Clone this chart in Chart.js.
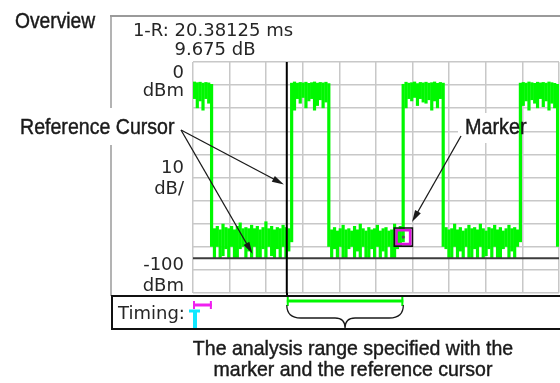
<!DOCTYPE html>
<html><head><meta charset="utf-8">
<script src="https://cdn.jsdelivr.net/npm/chart.js@4"></script>
<style>html,body{margin:0;padding:0;background:#fff}canvas{display:block}</style>
</head><body>
<canvas id="c" width="560" height="383"></canvas>
<script>
// ---- data ----
// column max / min of the overview trace, dBm, one column per 0.5 ms
const traceMax = [
  -8.5,-8.8,-8.6,-9.0,-8.7,-8.9,-9.5,
  -72,-71,-72.5,-70,-71.5,-72,-71,-72.5,-71,-69.5,-72,-71.5,-72,-70.5,-72,-71,-72.5,-71.5,-69,-72,-71,-72.5,-71.5,-72,-70.5,-71.5,-72,
  -9,-8.5,-9,-8.7,-8.9,-8.6,-9.1,-8.8,-8.5,-9,-8.7,-8.9,-8.6,-9.2,
  -72.5,-71.5,-73,-72,-70.5,-72.5,-72,-73,-71,-72.5,-70,-72,-73,-71.5,-72.5,-72,-70.5,-73,-72,-71.5,-73,-72.5,-70,-72,-71,
  -9.5,-8.6,-9,-8.8,-8.5,-9.2,-8.7,-8.9,-8.6,-9,-8.8,-8.5,-9.1,-8.7,-9,
  -71.5,-72.5,-72,-70,-72.5,-71.5,-73,-72,-70.5,-72,-71.5,-72.5,-70,-72,-73,-71.5,-72,-70.5,-72.5,-71.5,-73,-72,-70.5,-72,-71.5,-72.5,
  -9,-8.7,-9,-8.5,-8.8,-9.1,-8.6,-8.9,-8.7,-9,-8.5,-8.8,-9.1,-9.5
];
const traceMin = [
  -16,-20,-17,-21,-16,-18,-80,
  -85,-80,-85,-84,-81,-85,-80,-85,-85,-81,-80,-85,-82,-85,-80,-85,-85,-81,-85,-80,-84,-85,-81,-85,-80,-85,-82,
  -78,-21,-16,-18,-15.5,-20,-17,-16,-21,-19,-16.5,-20,-17.5,-80,
  -85,-81,-85,-80,-85,-85,-81,-80,-85,-82,-85,-80,-85,-85,-81,-85,-80,-85,-82,-85,-80,-85,-85,-81,-80,
  -78,-20,-16,-17,-15.5,-19,-16,-17.5,-18,-16.5,-21,-17,-20,-16,-80,
  -81,-85,-85,-80,-85,-82,-85,-80,-85,-85,-81,-85,-80,-85,-84,-81,-85,-80,-85,-85,-81,-80,-85,-82,-85,-80,
  -78,-19,-17,-21,-16.5,-18,-20,-16,-19.5,-17,-21,-18,-20,-80
];
const sampleStart = 0.25, sampleStep = 0.5;          // ms
const timeRange = [0, 64], timeDiv = 6.4;            // ms
const levelRange = [-100, 0], levelDiv = 10;         // dBm
const cursorTime = 16.4;                             // reference cursor, ms
const markerTime = 36.78, markerLevel = -75.8;       // marker
const thresholdLevel = -85;                          // dark level line
const yLabelsTop = ['0', 'dBm'];
const yLabelsMid = ['10', 'dB/'];
const yLabelsBot = ['-100', 'dBm'];
const readout = ['1-R: 20.38125 ms', '9.675 dB'];
const timingLabel = 'Timing:';
const titleText = 'Overview';
const refCursorText = 'Reference Cursor';
const markerText = 'Marker';
const caption = ['The analysis range specified with the', 'marker and the reference cursor'];
// callout arrow tips (time ms, level dBm)
const refArrowTips = [[15.9, -53], [10.4, -83]];
const markerArrowTip = [38.3, -69.3];
const timingMagenta = [0, 3.3];
const timingCyan = 0.35;

// ---- build ----
const traceData = traceMax.map((hi, i) => ({ x: sampleStart + i * sampleStep, y: [traceMin[i], hi] }));
const GREEN = 'rgb(0,248,0)';

function condensed(ctx, text, x, y, sx, align) {
  ctx.save(); ctx.translate(x, y); ctx.scale(sx, 1);
  ctx.textAlign = align; ctx.fillText(text, 0, 0); ctx.strokeText(text, 0, 0); ctx.restore();
}
function arrow(ctx, x1, y1, x2, y2) {
  const a = Math.atan2(y2 - y1, x2 - x1), L = 12, W = 3.3;
  const c = Math.cos(a), s = Math.sin(a);
  ctx.beginPath(); ctx.moveTo(x1, y1); ctx.lineTo(x2 - L * 0.7 * c, y2 - L * 0.7 * s); ctx.stroke();
  ctx.beginPath(); ctx.moveTo(x2, y2);
  ctx.lineTo(x2 - L * c + W * s, y2 - L * s - W * c);
  ctx.lineTo(x2 - L * c - W * s, y2 - L * s + W * c);
  ctx.closePath(); ctx.fill();
}

const overlay = {
  id: 'overlay',
  afterDraw(chart) {
    const { ctx, chartArea: ca, scales: { x, y } } = chart;
    ctx.save();
    const ink = '#1a1a1a';
    // outer frame of the overview panel
    ctx.strokeStyle = '#9a9a9a'; ctx.lineWidth = 2;
    ctx.beginPath(); ctx.moveTo(110, 16); ctx.lineTo(560, 16); ctx.stroke();
    ctx.lineWidth = 1.5;
    ctx.beginPath(); ctx.moveTo(111, 16); ctx.lineTo(111, 296); ctx.stroke();
    // cursor extension down to timing box
    const cx = x.getPixelForValue(cursorTime);
    ctx.strokeStyle = '#000'; ctx.lineWidth = 2;
    ctx.beginPath(); ctx.moveTo(Math.round(cx), ca.bottom); ctx.lineTo(Math.round(cx), 296); ctx.stroke();
    // timing box
    ctx.strokeStyle = '#111'; ctx.lineWidth = 2;
    ctx.strokeRect(112, 296, 470, 33);
    // screen texts
    ctx.fillStyle = '#262626'; ctx.textBaseline = 'middle';
    ctx.font = '18px "DejaVu Sans"';
    ctx.textAlign = 'center';
    ctx.fillText(readout[0], 213, 31);
    ctx.fillText(readout[1], 215, 50);
    ctx.textAlign = 'right';
    const lx = ca.left - 9;
    const y0 = y.getPixelForValue(levelRange[1]);
    const ym = y.getPixelForValue((levelRange[0] + levelRange[1]) / 2);
    const y1 = y.getPixelForValue(levelRange[0]);
    ctx.fillText(yLabelsTop[0], lx, y0 + 11);
    ctx.fillText(yLabelsTop[1], lx, y0 + 29);
    ctx.fillText(yLabelsMid[0], lx, ym - 9);
    ctx.fillText(yLabelsMid[1], lx, ym + 12);
    ctx.fillText(yLabelsBot[0], lx, y1 - 28);
    ctx.fillText(yLabelsBot[1], lx, y1 - 7);
    ctx.textAlign = 'left';
    ctx.fillText(timingLabel, 118, 314);
    // timing symbols
    const mx0 = x.getPixelForValue(timingMagenta[0]), mx1 = x.getPixelForValue(timingMagenta[1]);
    ctx.strokeStyle = '#f020f0'; ctx.lineWidth = 3;
    ctx.beginPath(); ctx.moveTo(mx0, 305); ctx.lineTo(mx1, 305); ctx.stroke();
    ctx.lineWidth = 2;
    ctx.beginPath(); ctx.moveTo(mx0 + 1, 301); ctx.lineTo(mx0 + 1, 309); ctx.moveTo(mx1 - 1, 301); ctx.lineTo(mx1 - 1, 309); ctx.stroke();
    const tcx = x.getPixelForValue(timingCyan);
    ctx.strokeStyle = '#10e8ff'; ctx.lineWidth = 3;
    ctx.beginPath(); ctx.moveTo(tcx - 6, 311); ctx.lineTo(tcx + 5, 311); ctx.stroke();
    ctx.lineWidth = 4;
    ctx.beginPath(); ctx.moveTo(tcx, 311); ctx.lineTo(tcx, 328); ctx.stroke();
    // analysis range bar
    const bx0 = x.getPixelForValue(cursorTime), bx1 = x.getPixelForValue(markerTime);
    ctx.strokeStyle = GREEN; ctx.lineWidth = 3;
    ctx.beginPath(); ctx.moveTo(bx0, 301); ctx.lineTo(bx1, 301); ctx.stroke();
    ctx.lineWidth = 2;
    ctx.beginPath(); ctx.moveTo(bx0 + 1, 297); ctx.lineTo(bx0 + 1, 306); ctx.moveTo(bx1 - 1, 297); ctx.lineTo(bx1 - 1, 306); ctx.stroke();
    // brace
    const mid = (bx0 + bx1) / 2, by = 318;
    ctx.strokeStyle = ink; ctx.lineWidth = 1.3;
    ctx.beginPath();
    ctx.moveTo(bx0, 305);
    ctx.quadraticCurveTo(bx0, by, bx0 + 14, by);
    ctx.lineTo(mid - 10, by);
    ctx.quadraticCurveTo(mid, by, mid, 328);
    ctx.quadraticCurveTo(mid, by, mid + 10, by);
    ctx.lineTo(bx1 - 14, by);
    ctx.quadraticCurveTo(bx1, by, bx1, 305);
    ctx.stroke();
    // callout labels (with white backgrounds)
    ctx.fillStyle = '#fff';
    ctx.fillRect(15, 108, 168, 37);
    ctx.fillRect(458, 113, 58, 30);
    ctx.fillStyle = ink; ctx.strokeStyle = ink; ctx.lineWidth = 0.45;
    ctx.textBaseline = 'alphabetic';
    ctx.font = '22px "Liberation Sans", Arial, sans-serif';
    condensed(ctx, titleText, 15, 28, 0.875, 'left');
    condensed(ctx, refCursorText, 20, 134, 0.89, 'left');
    condensed(ctx, markerText, 465, 134, 0.9, 'left');
    ctx.font = '21px "Liberation Sans", Arial, sans-serif';
    condensed(ctx, caption[0], 353, 355, 0.93, 'center');
    condensed(ctx, caption[1], 353, 376, 0.93, 'center');
    // arrows
    ctx.strokeStyle = ink; ctx.fillStyle = ink; ctx.lineWidth = 1.3;
    refArrowTips.forEach(([t, l]) => arrow(ctx, 181, 130, x.getPixelForValue(t), y.getPixelForValue(l)));
    arrow(ctx, 461, 136, x.getPixelForValue(markerArrowTip[0]), y.getPixelForValue(markerArrowTip[1]));
    ctx.restore();
  }
};

const gridOpts = { color: '#c8c8c8', lineWidth: 1.5, drawTicks: false, offset: false };
new Chart(document.getElementById('c'), {
  type: 'bar',
  data: {
    datasets: [
      { type: 'line', data: [{ x: markerTime, y: markerLevel }], showLine: false, pointStyle: 'circle',
        pointRadius: 1.6, pointBackgroundColor: '#555', pointBorderWidth: 0, order: 0 },
      { type: 'line', data: [{ x: markerTime, y: markerLevel }], showLine: false, pointStyle: 'rect',
        pointRadius: 9.6, pointBackgroundColor: 'rgba(0,0,0,0)', pointBorderColor: '#e010e0', pointBorderWidth: 2.5, order: 0 },
      { type: 'line', data: [{ x: markerTime, y: markerLevel }], showLine: false, pointStyle: 'rect',
        pointRadius: 12.8, pointBackgroundColor: 'rgba(0,0,0,0)', pointBorderColor: '#111', pointBorderWidth: 1.6, order: 0 },
      { type: 'line', data: [{ x: cursorTime, y: levelRange[1] }, { x: cursorTime, y: levelRange[0] }],
        borderColor: '#000', borderWidth: 2, pointRadius: 0, order: 1 },
      { type: 'line', data: [{ x: timeRange[0], y: thresholdLevel }, { x: timeRange[1], y: thresholdLevel }],
        borderColor: '#3c3c3c', borderWidth: 2, pointRadius: 0, order: 2 },
      { type: 'bar', data: traceData, backgroundColor: GREEN, borderWidth: 0, barPercentage: 1.12,
        categoryPercentage: 1, grouped: false, clip: 0, order: 10 }
    ]
  },
  options: {
    responsive: false, animation: false, devicePixelRatio: 1,
    layout: { autoPadding: false, padding: { left: 193, right: 1, top: 62, bottom: 90 } },
    plugins: { legend: { display: false }, tooltip: { enabled: false } },
    scales: {
      x: { type: 'linear', min: timeRange[0], max: timeRange[1], offset: false,
           ticks: { display: false, stepSize: timeDiv }, grid: gridOpts, border: { display: false } },
      y: { type: 'linear', min: levelRange[0], max: levelRange[1],
           ticks: { display: false, stepSize: levelDiv }, grid: gridOpts, border: { display: false } }
    }
  },
  plugins: [overlay]
});
</script>
</body></html>
